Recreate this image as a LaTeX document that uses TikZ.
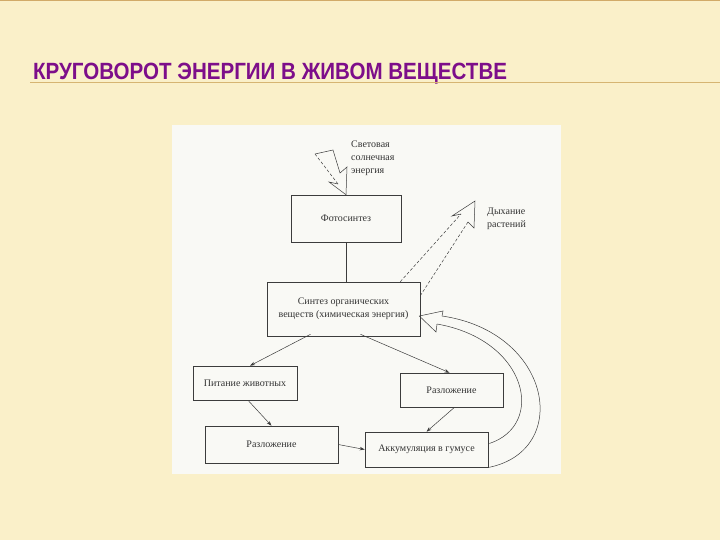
\documentclass[tikz,border=0pt]{standalone}
\usepackage{fontspec}
\setmainfont{Liberation Serif}
\newfontfamily\titlefont[FakeStretch=0.875]{Liberation Sans}
\usetikzlibrary{arrows.meta,calc}
\definecolor{bgc}{HTML}{FAF0C9}
\definecolor{panelc}{HTML}{F9F9F5}
\definecolor{linec}{HTML}{3C3C3C}
\definecolor{txtc}{HTML}{333333}
\definecolor{titlec}{HTML}{7D0E8A}
\definecolor{rulec}{HTML}{D6B572}
\tikzset{
  box/.style={draw=linec, line width=0.6pt, inner sep=0pt, text=txtc,
    font=\fontsize{10}{12.5}\selectfont, align=center},
  lbl/.style={inner sep=0pt, text=txtc, font=\fontsize{10}{13}\selectfont, align=left},
  conn/.style={draw=linec, line width=0.5pt},
  arr/.style={conn, -{Stealth[length=5pt,width=3.5pt]}},
  hollow/.style={draw=linec, line width=0.5pt, line join=miter}
}
\begin{document}
\begin{tikzpicture}[x=1pt,y=-1pt]
\useasboundingbox (0,0) rectangle (720,540);
\fill[bgc] (0,0) rectangle (720,540);
\draw[rulec!80!brown, line width=1.2pt] (0,0.6) -- (720,0.6);
% title
\node[anchor=base west, inner sep=0pt, text=titlec] (title) at (33,80)
  {\titlefont\bfseries\fontsize{23.5}{24}\selectfont КРУГОВОРОТ ЭНЕРГИИ В ЖИВОМ ВЕЩЕСТВЕ};
\draw[rulec, line width=1pt] (30,83) -- (720,83);
% panel
\fill[panelc] (172,125) rectangle (561,474);
% boxes
\node[box, minimum width=110pt, minimum height=47pt] (foto) at (346,218.5) {Фотосинтез};
\node[box, minimum width=153pt, minimum height=54pt] (sint) at (343.5,309) {Синтез органических\\веществ (химическая энергия)};
\node[box, minimum width=104pt, minimum height=34pt] (pit) at (245,383) {Питание животных};
\node[box, minimum width=103pt, minimum height=34pt] (razR) at (451.5,390) {Разложение};
\node[box, minimum width=133pt, minimum height=37pt] (razL) at (271.5,444.5) {Разложение};
\node[box, minimum width=123pt, minimum height=35pt] (akk) at (426.5,449.5) {Аккумуляция в гумусе};
% labels
\node[lbl, anchor=north west] (sun) at (351,141) {Световая\\солнечная\\энергия};
\node[lbl, anchor=north west] (resp) at (487,208) {Дыхание\\растений};
% connectors
\draw[conn] (foto.south) -- (foto.south |- sint.north);
\draw[arr] ($(sint.south)+(-33,-2)$) -- ($(pit.north)+(5,0)$);
\draw[arr] ($(sint.south)+(17,-2)$) -- ($(razR.north)+(-2,0)$);
\draw[arr] ($(pit.south)+(3,0)$) -- (razL.north);
\draw[arr] ($(razR.south)+(3,0)$) -- (akk.north);
\draw[arr] (razL.east) -- (akk.west);
% lightning (solar energy)
\coordinate (ltip) at (foto.north);
\draw[hollow] (315,154) -- (333,150) -- (340,173) -- (347,167) -- (ltip)
  -- (329,182) -- (338,184);
\draw[hollow, densely dashed] (338,184) -- (315,154);
% respiration arrow
\coordinate (rA) at ($(sint.north east)+(-20,0)$);
\coordinate (rB) at ($(sint.north east)+(0,14)$);
\draw[hollow, densely dashed] (rA) -- (461,214);
\draw[hollow] (461,214) -- (452,216) -- (475,201) -- (474,228) -- (468,222);
\draw[hollow, densely dashed] (468,222) -- (rB);
% return arrows from humus
\coordinate (cO) at ($(akk.south east)+(1,0)$);
\coordinate (cI) at ($(akk.east)+(1,-6)$);
\coordinate (htip) at ($(sint.east)+(-1,7)$);
\draw[hollow] (cO) .. controls (572,450) and (552,332) .. (442,316);
\draw[hollow] (cI) .. controls (546,425) and (528,340) .. (437,324);
\draw[hollow] (442,316) -- (443,311) -- (htip) -- (436,332) -- (437,324);
\end{tikzpicture}
\end{document}
